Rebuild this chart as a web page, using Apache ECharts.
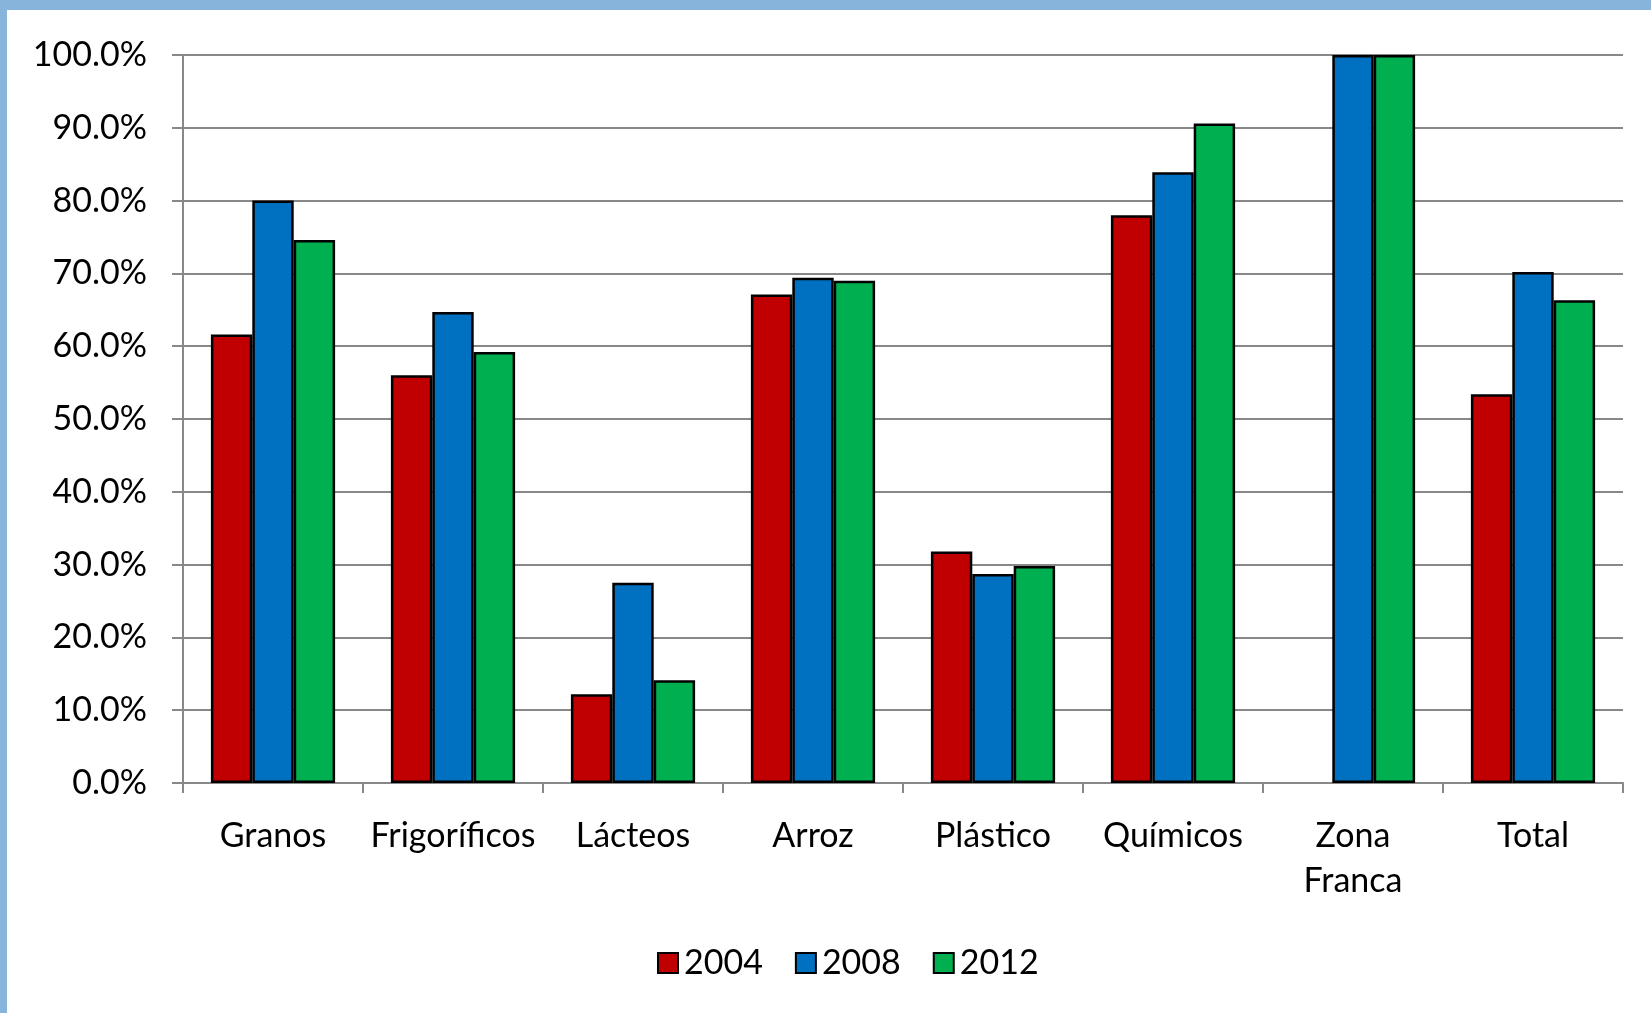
<!DOCTYPE html>
<html>
<head>
<meta charset="utf-8">
<script src="https://cdn.jsdelivr.net/npm/echarts@6/dist/echarts.min.js"></script>
<style>
  html, body { margin: 0; padding: 0; background: #ffffff; }
  #chart { width: 1651px; height: 1013px; }
</style>
</head>
<body>
<div id="chart"></div>
<script>
// Sectores y años
const categories = ['Granos', 'Frigoríficos', 'Lácteos', 'Arroz', 'Plástico', 'Químicos', 'Zona\nFranca', 'Total'];
const years = ['2004', '2008', '2012'];

// Porcentajes por sector (%)
const values2004 = [61.6, 56.0, 12.2, 67.1, 31.8, 78.0, null, 53.4];
const values2008 = [80.0, 64.7, 27.5, 69.4, 28.7, 83.9, 100.0, 70.2];
const values2012 = [74.6, 59.2, 14.1, 69.0, 29.8, 90.6, 100.0, 66.3];

// Etiquetas del eje vertical
const yTicks = [0, 10, 20, 30, 40, 50, 60, 70, 80, 90, 100];

const colors = ['#C00000', '#0070C0', '#00B050'];
const seriesValues = [values2004, values2008, values2012];
const FONT = 'Lato';
const GRID_GRAY = '#888888';

const chart = echarts.init(document.getElementById('chart'), null, { renderer: 'canvas' });

const option = {
  animation: false,
  backgroundColor: '#ffffff',
  textStyle: { fontFamily: FONT },
  graphic: [
    { type: 'rect', left: 0, top: 0, shape: { width: 1651, height: 10 }, style: { fill: '#86B4DA' }, z: 100 },
    { type: 'rect', left: 0, top: 0, shape: { width: 7, height: 1013 }, style: { fill: '#86B4DA' }, z: 100 }
  ],
  grid: { left: 183, right: 28, top: 55, bottom: 230, containLabel: false },
  legend: {
    data: years,
    left: 652,
    top: 941,
    icon: 'rect',
    itemWidth: 20,
    itemHeight: 20,
    itemGap: 32,
    textStyle: { fontFamily: FONT, fontSize: 34, color: '#000000', padding: [0, 0, 0, 1] }
  },
  xAxis: {
    type: 'category',
    data: categories,
    boundaryGap: true,
    axisLine: { show: true, lineStyle: { color: GRID_GRAY, width: 2 } },
    axisTick: { show: true, length: 10, inside: false, lineStyle: { color: GRID_GRAY, width: 2 } },
    axisLabel: {
      fontFamily: FONT, fontSize: 34, color: '#000000', margin: 31,
      lineHeight: 45, interval: 0
    }
  },
  yAxis: {
    type: 'value',
    min: yTicks[0],
    max: yTicks[yTicks.length - 1],
    interval: yTicks[1] - yTicks[0],
    axisLine: { show: true, lineStyle: { color: GRID_GRAY, width: 2 } },
    axisTick: { show: true, length: 11, lineStyle: { color: GRID_GRAY, width: 2 } },
    splitLine: { show: true, lineStyle: { color: GRID_GRAY, width: 2 } },
    axisLabel: {
      fontFamily: FONT, fontSize: 34, color: '#000000', margin: 36,
      formatter: v => v.toFixed(1) + '%'
    }
  },
  series: years.map((y, i) => ({
    name: y,
    type: 'bar',
    data: seriesValues[i],
    barGap: '0%',
    barCategoryGap: '31%',
    itemStyle: { color: colors[i], borderColor: '#000000', borderWidth: 2.5 }
  }))
};

chart.setOption(option);
</script>
</body>
</html>
